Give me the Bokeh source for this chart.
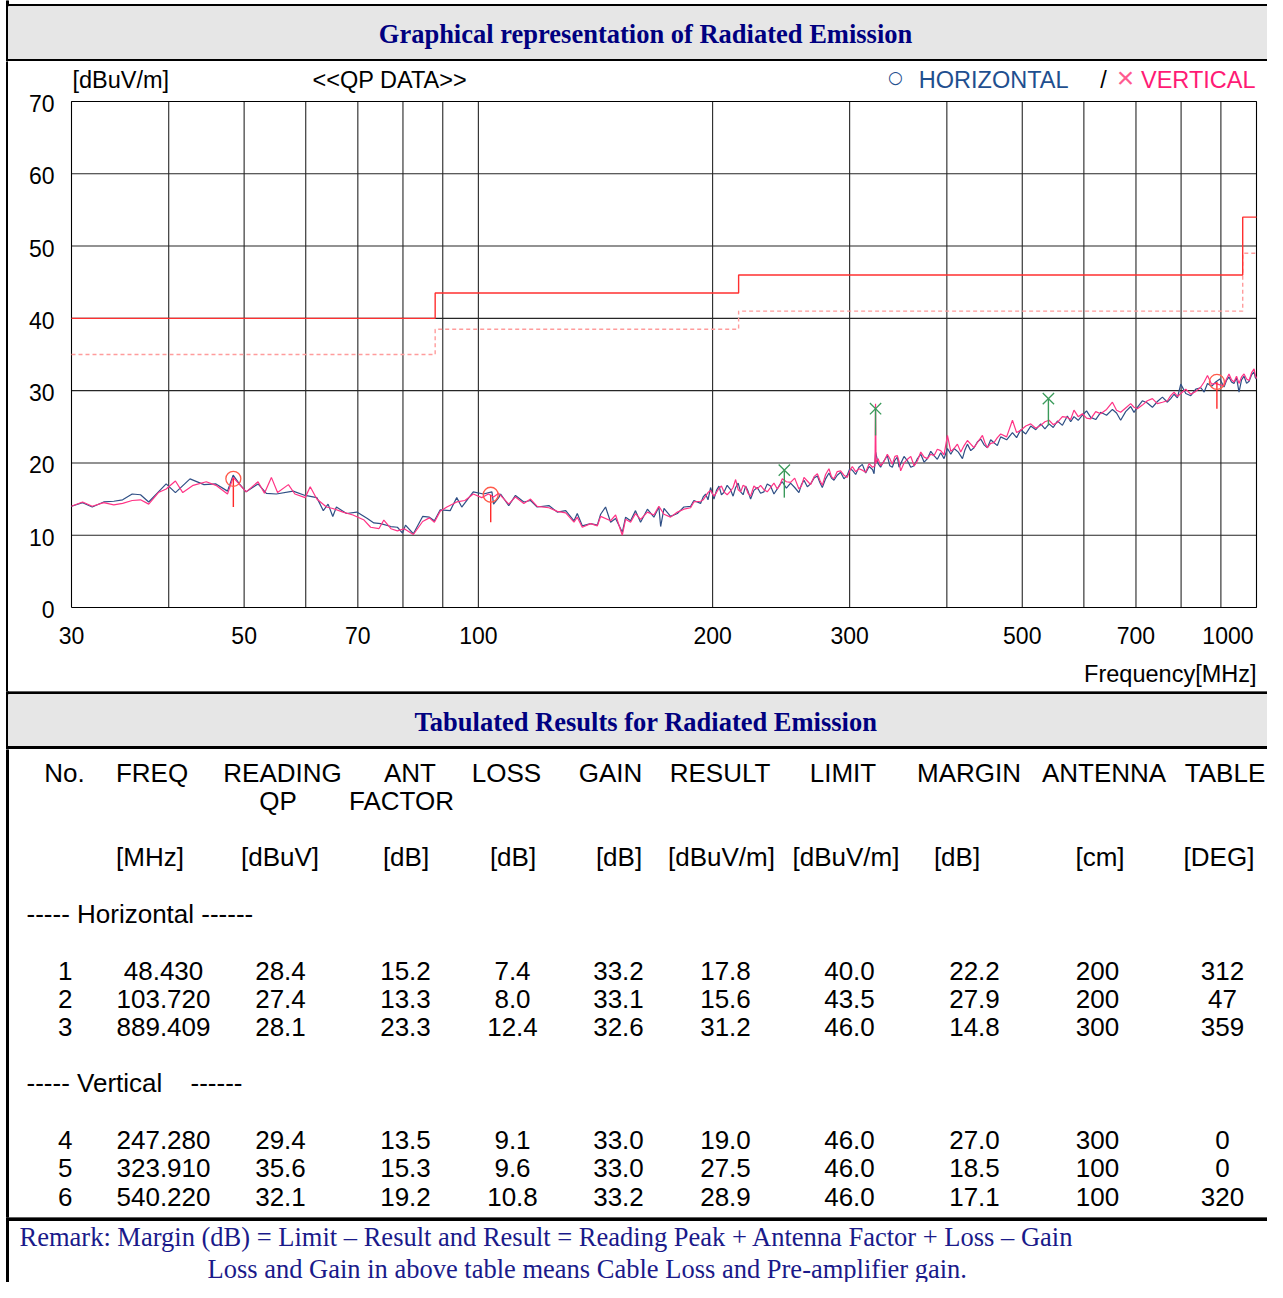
import math
from bokeh.plotting import figure
from bokeh.models import Range1d
from bokeh.layouts import column, row
from bokeh.embed import file_html
from bokeh.resources import INLINE
from bokeh.core.properties import value

# ---------------- data ----------------
h_freq = [30.0, 31.0, 31.9, 33.0, 34.0, 34.9, 35.9, 36.8, 37.7, 38.8, 39.7, 40.8, 42.6, 44.4, 46.0,
          47.6, 48.4, 49.3, 50.3, 52.1, 53.4, 55.0, 57.8, 59.9, 62.0, 63.2, 64.1, 65.0, 65.7, 67.7,
          69.8, 72.0, 73.4, 74.9, 77.2, 78.7, 79.9, 80.6, 82.5, 84.8, 86.5, 87.8, 89.3, 92.0, 93.8,
          95.2, 98.5, 101.5, 104.1, 104.6, 106.2, 106.8, 109.4, 111.6, 114.4, 116.7, 119.0, 123.2,
          126.3, 129.5, 132.7, 134.0, 136.0, 139.4, 142.2, 143.6, 145.7, 147.9, 150.1, 153.1, 154.6,
          156.9, 159.2, 161.6, 164.9, 168.1, 170.6, 171.5, 173.2, 176.6, 180.2, 183.7, 187.4, 189.2,
          193.0, 194.5, 195.9, 197.3, 198.8, 200.8, 202.3, 203.8, 205.3, 206.8, 208.8, 210.9, 212.5,
          214.1, 215.7, 217.3, 218.9, 220.5, 222.1, 223.8, 226.0, 228.3, 230.5, 232.8, 235.1, 237.4,
          239.8, 242.2, 244.0, 245.8, 248.8, 251.9, 255.0, 258.2, 260.1, 262.1, 264.7, 267.3, 270.0,
          272.7, 274.7, 276.7, 279.4, 282.2, 284.3, 286.4, 289.2, 292.1, 295.0, 297.9, 300.1, 302.4,
          305.4, 308.4, 311.5, 314.6, 317.8, 321.0, 322.5, 324.0, 326.4, 328.8, 332.1, 335.4, 337.9,
          340.4, 343.0, 345.5, 347.2, 348.9, 352.4, 356.0, 359.5, 363.1, 366.7, 370.3, 374.0, 377.7,
          381.4, 385.1, 388.9, 392.8, 396.7, 400.7, 404.7, 408.7, 413.8, 418.9, 422.0, 425.1, 429.3,
          433.5, 437.8, 442.2, 446.6, 451.0, 455.4, 459.9, 464.5, 469.1, 477.4, 485.7, 491.7, 497.7,
          505.2, 512.7, 520.4, 528.1, 534.7, 541.3, 548.0, 554.8, 563.1, 571.4, 577.0, 582.7, 590.0,
          597.4, 604.8, 612.3, 621.4, 630.6, 641.7, 652.9, 660.9, 669.0, 679.0, 689.1, 696.0, 702.9,
          713.4, 724.0, 734.9, 745.8, 757.0, 768.2, 775.8, 783.5, 791.3, 799.2, 811.2, 823.3, 835.6,
          848.1, 856.5, 865.0, 875.6, 886.3, 897.3, 908.3, 915.0, 921.8, 928.7, 935.6, 942.6, 949.6,
          956.7, 963.8, 971.1, 978.4, 985.6, 992.9, 996.5, 1000.0]
h_level = [14.0, 14.5, 13.9, 14.6, 14.7, 14.9, 15.7, 15.6, 14.6, 16.0, 17.1, 15.9, 17.8, 17.0, 17.1,
           16.1, 18.3, 17.1, 16.0, 17.1, 15.8, 15.7, 16.1, 15.5, 15.2, 13.4, 14.3, 12.6, 13.9, 13.0,
           13.2, 12.3, 11.7, 11.6, 11.2, 11.1, 10.3, 11.4, 10.2, 12.6, 12.5, 12.0, 13.5, 13.4, 15.2,
           13.9, 16.0, 15.7, 16.0, 14.3, 15.2, 15.7, 14.1, 15.5, 14.6, 14.8, 13.9, 14.1,
           13.2, 13.4, 12.0, 13.0, 11.3, 11.6, 11.4, 12.9, 13.9, 11.8, 12.3, 10.4, 12.5,
           12.0, 13.4, 11.8, 13.6, 12.5, 13.9, 11.2, 13.7, 12.6, 13.0, 13.9, 14.0, 14.8,
           14.4, 15.3, 15.7, 14.9, 16.6, 15.0, 16.2, 16.8, 15.6, 15.9, 16.9, 16.3, 15.4,
           16.6, 17.2, 16.0, 15.6, 16.8, 16.1, 15.0, 16.2, 16.6, 15.8, 16.0, 17.1, 16.8,
           15.7, 16.4, 17.0, 17.4, 16.5, 17.2, 16.6, 15.9, 17.0, 17.6, 16.7, 17.1, 17.9,
           18.2, 17.3, 16.6, 17.8, 18.6, 17.9, 17.6, 18.3, 18.7, 17.8, 18.3, 19.2, 19.0,
           18.4, 19.4, 19.8, 18.6, 19.5, 19.1, 18.5, 21.5, 19.9, 19.4, 20.3, 21.0, 19.6,
           19.4, 20.4, 20.8, 19.4, 19.9, 20.9, 20.3, 19.4, 19.6, 20.6, 21.2, 20.1, 20.6,
           21.6, 21.0, 20.5, 21.4, 20.6, 22.0, 21.2, 22.0, 21.5, 20.6, 21.8, 22.6, 21.7,
           22.1, 22.9, 23.3, 22.5, 22.1, 23.2, 22.8, 22.4, 23.6, 23.2, 24.2, 23.5, 24.6,
           24.0, 25.1, 24.6, 25.4, 24.7, 25.4, 24.9, 25.8, 25.2, 26.5, 25.7, 26.4, 25.9,
           26.6, 27.2, 26.3, 26.0, 27.0, 26.6, 27.4, 26.9, 25.9, 27.1, 27.8, 27.0, 27.7,
           28.6, 28.3, 27.7, 28.5, 29.1, 28.4, 28.9, 29.5, 29.0, 30.9, 29.6, 29.3, 30.2,
           30.4, 29.8, 31.0, 30.6, 31.2, 31.6, 30.5, 31.4, 31.9, 31.2, 31.0, 31.8, 29.8,
           31.5, 32.0, 31.0, 31.3, 32.2, 32.6, 31.8, 31.6]

v_freq = [30.0, 31.0, 31.9, 33.0, 34.0, 34.9, 35.9, 36.8, 37.7, 38.8, 39.7, 40.8, 41.7, 43.0, 44.7,
          46.0, 47.6, 48.4, 50.3, 52.1, 53.1, 54.2, 55.2, 57.0, 58.1, 59.9, 60.8, 62.0, 63.8, 65.0,
          67.0, 69.0, 71.3, 72.7, 74.5, 75.6, 77.2, 78.7, 80.3, 82.5, 84.8, 86.5, 87.8, 89.3, 91.1,
          93.8, 96.1, 98.5, 101.0, 103.0, 104.6, 106.2, 109.4, 111.6, 114.4, 116.7, 119.0, 123.2,
          126.3, 129.5, 132.7, 134.0, 136.0, 139.4, 142.2, 143.6, 147.9, 150.1, 153.1, 154.6, 156.9,
          159.2, 161.6, 164.9, 168.1, 170.6, 173.2, 176.6, 180.2, 183.7, 187.4, 189.2,
          193.0, 194.5, 195.9, 197.3, 198.8, 200.8, 202.3, 203.8, 205.3, 206.8, 208.8, 210.9, 212.5,
          214.1, 215.7, 217.3, 218.9, 220.5, 222.1, 223.8, 226.0, 228.3, 230.5, 232.8, 235.1, 237.4,
          239.8, 242.2, 244.0, 245.8, 248.8, 251.9, 255.0, 258.2, 260.1, 262.1, 264.7, 267.3, 270.0,
          272.7, 274.7, 276.7, 279.4, 282.2, 284.3, 286.4, 289.2, 292.1, 295.0, 297.9, 300.1, 302.4,
          305.4, 308.4, 311.5, 314.6, 317.8, 321.0, 323.4, 323.9, 324.4, 326.4, 328.8, 332.1, 335.4,
          337.9, 340.4, 343.0, 345.5, 347.2, 348.9, 352.4, 356.0, 359.5, 363.1, 366.7, 370.3, 374.0,
          377.7, 381.4, 385.1, 388.9, 392.8, 396.7, 400.7, 404.7, 408.7, 412.7, 416.8, 421.0, 425.1,
          429.3, 433.5, 439.0, 444.4, 447.7, 451.0, 455.4, 459.9, 464.5, 469.1, 477.4, 485.7, 491.7,
          497.7, 505.2, 512.7, 520.4, 528.1, 534.7, 541.3, 548.0, 554.8, 563.1, 571.4, 577.0, 582.7,
          590.0, 597.4, 604.8, 612.3, 621.4, 630.6, 641.7, 652.9, 660.9, 669.0, 679.0, 689.1, 696.0,
          702.9, 713.4, 724.0, 734.9, 745.8, 757.0, 768.2, 775.8, 783.5, 791.3, 799.2, 811.2, 823.3,
          835.6, 848.1, 856.5, 865.0, 875.6, 886.3, 897.3, 908.3, 915.0, 921.8, 928.7, 935.6, 942.6,
          949.6, 956.7, 963.8, 971.1, 978.4, 985.6, 992.9, 996.5, 1000.0]
v_level = [14.0, 14.6, 14.0, 14.5, 14.2, 14.4, 14.8, 14.9, 14.3, 15.9, 16.4, 17.5, 15.9, 16.9, 17.4,
           16.9, 15.7, 18.0, 16.0, 17.4, 15.8, 18.0, 15.9, 17.0, 15.7, 15.2, 16.7, 15.0, 13.9, 13.7,
           13.2, 12.8, 12.1, 11.1, 10.9, 12.1, 10.9, 10.6, 10.9, 10.1, 11.9, 12.4, 11.8, 13.3, 13.9,
           14.6, 14.8, 15.7, 15.2, 15.7, 15.3, 15.8, 14.3, 15.3, 14.4, 15.0, 14.0, 13.8,
           13.3, 13.1, 11.8, 12.5, 11.1, 11.6, 11.3, 12.6, 12.0, 12.8, 10.0, 12.2, 11.8,
           13.0, 12.2, 13.2, 12.8, 14.0, 12.9, 12.5, 13.2, 13.6, 13.8, 14.6,
           14.7, 14.9, 15.4, 15.9, 16.2, 15.4, 15.9, 16.5, 16.8, 16.0, 15.6, 16.1, 16.6,
           17.7, 16.3, 16.0, 16.9, 16.7, 15.8, 15.4, 16.8, 16.4, 16.9, 16.3, 16.0, 16.6,
           17.2, 16.4, 16.9, 17.8, 17.4, 17.3, 17.9, 16.4, 16.8, 18.0, 17.5, 17.0, 18.1,
           18.5, 17.6, 16.9, 18.4, 19.2, 18.1, 17.8, 18.8, 18.9, 18.3, 18.0, 18.9, 19.5,
           18.8, 19.2, 19.0, 18.7, 19.9, 19.4, 19.6, 28.2, 20.0, 20.6, 19.6, 20.2, 21.2,
           20.6, 19.8, 20.9, 21.0, 20.2, 18.9, 20.0, 20.5, 20.9, 19.6, 20.3, 21.5, 20.8,
           20.6, 21.2, 21.0, 21.9, 21.7, 21.1, 23.8, 21.6, 22.0, 22.6, 21.5, 22.4, 23.1,
           22.6, 22.1, 23.0, 23.8, 22.8, 22.1, 22.7, 22.8, 23.5, 24.0, 23.6, 25.9, 24.2,
           24.5, 25.1, 25.4, 24.8, 25.2, 25.7, 25.9, 25.3, 25.6, 26.4, 26.3, 26.0, 27.3,
           26.4, 26.8, 26.2, 26.1, 27.1, 26.8, 27.4, 28.4, 27.3, 27.0, 27.6, 28.2, 27.7,
           27.5, 28.0, 28.6, 28.9, 28.2, 28.4, 28.6, 29.3, 29.8, 29.2, 29.6, 30.2, 29.5,
           29.9, 30.5, 31.2, 32.1, 30.9, 31.0, 30.8, 30.7, 31.6, 32.3, 31.5, 31.2, 32.0,
           31.0, 31.9, 32.3, 31.6, 31.4, 32.5, 33.0, 32.1, 31.7]

limit_freq = [30, 88, 88, 216, 216, 960, 960, 1000]
limit_level = [40, 40, 43.5, 43.5, 46, 46, 54, 54]
margin_level = [35, 35, 38.5, 38.5, 41, 41, 49, 49]

h_peak_freq = [48.43, 103.72, 889.409]
h_peak_result = [17.8, 15.6, 31.2]
h_peak_stem = [13.9, 11.8, 27.5]
v_peak_freq = [247.28, 323.91, 540.22]
v_peak_result = [19.0, 27.5, 28.9]
v_peak_stem = [15.2, 23.8, 25.2]

X_MIN, X_MAX = 30, 1000
Y_MIN, Y_MAX = 0, 70
x_ticks = [30, 50, 70, 100, 200, 300, 500, 700, 1000]
x_grid = [40, 50, 60, 70, 80, 90, 100, 200, 300, 400, 500, 600, 700, 800, 900]
y_ticks = [0, 10, 20, 30, 40, 50, 60, 70]
y_grid = [10, 20, 30, 40, 50, 60]

tbl_no = ["1", "2", "3", "4", "5", "6"]
tbl_freq = ["48.430", "103.720", "889.409", "247.280", "323.910", "540.220"]
tbl_reading = ["28.4", "27.4", "28.1", "29.4", "35.6", "32.1"]
tbl_ant = ["15.2", "13.3", "23.3", "13.5", "15.3", "19.2"]
tbl_loss = ["7.4", "8.0", "12.4", "9.1", "9.6", "10.8"]
tbl_gain = ["33.2", "33.1", "32.6", "33.0", "33.0", "33.2"]
tbl_result = ["17.8", "15.6", "31.2", "19.0", "27.5", "28.9"]
tbl_limit = ["40.0", "43.5", "46.0", "46.0", "46.0", "46.0"]
tbl_margin = ["22.2", "27.9", "14.8", "27.0", "18.5", "17.1"]
tbl_antenna = ["200", "200", "300", "300", "100", "100"]
tbl_table = ["312", "47", "359", "0", "0", "320"]

hdr1 = ["No.", "FREQ", "READING", "ANT", "LOSS", "GAIN", "RESULT", "LIMIT", "MARGIN", "ANTENNA", "TABLE"]
hdr2 = ["QP", "FACTOR"]
hdr3 = ["[MHz]", "[dBuV]", "[dB]", "[dB]", "[dB]", "[dBuV/m]", "[dBuV/m]", "[dB]", "[cm]", "[DEG]"]

title_top = "Graphical representation of Radiated Emission"
title_table = "Tabulated Results for Radiated Emission"
remark1 = "Remark: Margin (dB) = Limit \u2013 Result and Result = Reading Peak + Antenna Factor + Loss \u2013 Gain"
remark2 = "Loss and Gain in above table means Cable Loss and Pre-amplifier gain."

# ---------------- layout / style ----------------
W = 1267
SANS = "Liberation Sans"
SERIF = "Liberation Serif"
NAVY = "#000080"
GRAY = "#e6e6e6"


def pix_fig(top, bottom, left=0, right=W):
    f = figure(width=right - left, height=bottom - top, x_range=Range1d(left, right),
               y_range=Range1d(bottom, top), output_backend="svg", toolbar_location=None,
               min_border=0, x_axis_location=None, y_axis_location=None, outline_line_color=None)
    f.grid.visible = False
    if left < 8:
        f.quad(left=[6], right=[8], top=[top], bottom=[bottom], color="black")
    return f


def txt(f, xs, ys, texts, align="center", size="26px", font=SANS, color="black", style="normal",
        xo=0, yo=0):
    f.text(x=xs, y=ys, text=texts, text_align=align, text_baseline="middle", x_offset=xo, y_offset=yo,
           text_font=value(font), text_font_size=size, text_color=color, text_font_style=style)


# title band
fa = pix_fig(0, 61)
fa.quad(left=[6], right=[W], top=[4], bottom=[6], color="black")
fa.quad(left=[8], right=[W], top=[6], bottom=[59], color=GRAY)
fa.quad(left=[6], right=[W], top=[59], bottom=[61], color="black")
txt(fa, [645], [33], [title_top], size="26.5px", font=SERIF, color=NAVY, style="bold")

# chart: frame geometry in page pixels
CH_L, CH_T, CH_B = 8, 61, 691
FR_L, FR_R, FR_T, FR_B = 71, 1256, 101, 607
dec_px = (FR_R - FR_L) / math.log10(X_MAX / X_MIN)
unit_px = (FR_B - FR_T) / (Y_MAX - Y_MIN)
x_start = X_MIN * 10 ** (-(FR_L - CH_L) / dec_px)
x_end = X_MAX * 10 ** ((W - FR_R) / dec_px)
y_end = Y_MAX + (FR_T - CH_T) / unit_px
y_start = Y_MIN - (CH_B - FR_B) / unit_px

p = figure(width=W - CH_L, height=CH_B - CH_T, x_axis_type="log",
           x_range=Range1d(x_start, x_end), y_range=Range1d(y_start, y_end),
           output_backend="svg", toolbar_location=None, min_border=0,
           x_axis_location=None, y_axis_location=None, outline_line_color=None)
p.grid.visible = False

GRID = "#262626"
p.segment(x0=x_grid, y0=[Y_MIN] * len(x_grid), x1=x_grid, y1=[Y_MAX] * len(x_grid), line_color=GRID, line_width=1.1)
p.segment(x0=[X_MIN] * len(y_grid), y0=y_grid, x1=[X_MAX] * len(y_grid), y1=y_grid, line_color=GRID, line_width=1.1)
p.line([X_MIN, X_MAX, X_MAX, X_MIN, X_MIN], [Y_MIN, Y_MIN, Y_MAX, Y_MAX, Y_MIN], line_color="black", line_width=1.1)

p.line(limit_freq, margin_level, line_color="#ff9c9c", line_width=1.4, line_dash="4 3")
p.line(limit_freq, limit_level, line_color="#ff3030", line_width=1.4)
p.line(h_freq, h_level, line_color="#2f4f85", line_width=1.2)
p.line(v_freq, v_level, line_color="#ff3385", line_width=1.2)
p.segment(x0=h_peak_freq, y0=h_peak_result, x1=h_peak_freq, y1=h_peak_stem, line_color="#ff2a2a", line_width=1.4)
p.scatter(h_peak_freq, h_peak_result, marker="circle", size=15, fill_color=None, line_color="#ff5a4a", line_width=1.3)
p.segment(x0=v_peak_freq, y0=v_peak_result, x1=v_peak_freq, y1=v_peak_stem, line_color="#3a9a5a", line_width=1.4)
p.scatter(v_peak_freq, v_peak_result, marker="x", size=16, line_color="#3a9a5a", line_width=1.3)

# tick labels
txt(p, [X_MIN] * len(y_ticks), y_ticks, [str(t) for t in y_ticks], align="right", size="23px", xo=-17, yo=2)
txt(p, x_ticks[:-1], [Y_MIN] * (len(x_ticks) - 1), [str(t) for t in x_ticks[:-1]], size="23px", yo=28)
txt(p, x_ticks[-1:], [Y_MIN], [str(x_ticks[-1])], align="right", size="23px", xo=-3, yo=28)
txt(p, [X_MAX], [Y_MIN], ["Frequency[MHz]"], align="right", size="23.5px", yo=66)
# header texts above the frame
txt(p, [X_MIN], [Y_MAX], ["[dBuV/m]"], align="left", size="23.5px", xo=1, yo=-22)
txt(p, [X_MIN], [Y_MAX], ["<<QP DATA>>"], align="left", size="23.5px", xo=241, yo=-22)
txt(p, [X_MAX], [Y_MAX], ["\u25cb"], size="17px", font="DejaVu Sans", color="#1f4f8f", xo=-361, yo=-25)
txt(p, [X_MAX], [Y_MAX], ["HORIZONTAL"], align="right", size="23.5px", color="#1f4f8f", xo=-188, yo=-22)
txt(p, [X_MAX], [Y_MAX], ["/"], size="23.5px", xo=-153, yo=-22)
txt(p, [X_MAX], [Y_MAX], ["\u00d7"], size="30px", color="#ff5a90", xo=-131, yo=-24)
txt(p, [X_MAX], [Y_MAX], ["VERTICAL"], align="right", size="23.5px", color="#ff1a75", xo=-1, yo=-22)

strip = pix_fig(CH_T, CH_B, left=0, right=CH_L)

# table title band
fc = pix_fig(691, 749)
fc.quad(left=[6], right=[W], top=[691], bottom=[694], color="black")
fc.quad(left=[8], right=[W], top=[694], bottom=[746], color=GRAY)
fc.quad(left=[6], right=[W], top=[746], bottom=[749], color="black")
txt(fc, [645.5], [721], [title_table], size="26.5px", font=SERIF, color=NAVY, style="bold")

# table
fd = pix_fig(749, 1217)
hdr1_x = [64, 151.5, 282, 409.5, 506, 610, 719.5, 842.5, 968.5, 1103.5, 1224.5]
hdr2_x = [277.5, 401]
hdr3_x = [149.5, 279.5, 405.5, 512.5, 618.5, 721, 845.5, 956.5, 1099.5, 1218.5]
txt(fd, hdr1_x, [772] * len(hdr1), hdr1)
txt(fd, hdr2_x, [800] * len(hdr2), hdr2)
txt(fd, hdr3_x, [856] * len(hdr3), hdr3)
txt(fd, [26], [913], ["----- Horizontal ------"], align="left")
txt(fd, [26], [1082], ["----- Vertical"], align="left")
txt(fd, [190], [1082], ["------"], align="left")
row_y = [970, 998, 1026, 1139, 1167, 1196]
txt(fd, [72] * 6, row_y, tbl_no, align="right")
col_x = [163, 280, 405, 512, 618, 725, 849, 974, 1097, 1222]
cols = [tbl_freq, tbl_reading, tbl_ant, tbl_loss, tbl_gain, tbl_result, tbl_limit, tbl_margin, tbl_antenna, tbl_table]
for cx, col in zip(col_x, cols):
    txt(fd, [cx] * 6, row_y, col)

# remarks
fe = pix_fig(1217, 1282)
fe.quad(left=[6], right=[W], top=[1217], bottom=[1220], color="black")
txt(fe, [19], [1236], [remark1], align="left", size="26.5px", font=SERIF, color="#1a1a8a")
txt(fe, [207], [1268], [remark2], align="left", size="26.5px", font=SERIF, color="#1a1a8a")

layout = column(fa, row(strip, p), fc, fd, fe)
open("out.html", "w").write(file_html(layout, INLINE))
